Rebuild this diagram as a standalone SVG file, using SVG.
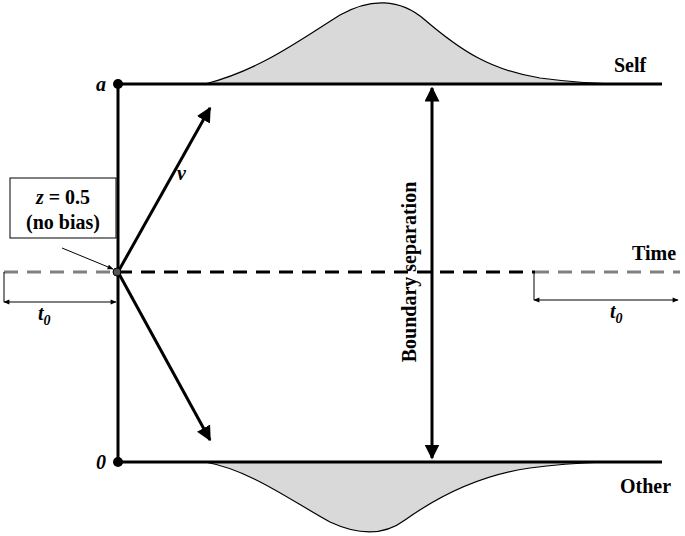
<svg xmlns="http://www.w3.org/2000/svg" width="685" height="536" viewBox="0 0 685 536">
<defs>
<marker id="ah" viewBox="0 0 10 10" refX="9" refY="5" markerWidth="5" markerHeight="5" orient="auto-start-reverse"><path d="M0,0L10,5L0,10z" fill="#000"/></marker>
<marker id="sm" viewBox="0 0 10 10" refX="9" refY="5" markerWidth="8" markerHeight="6" orient="auto-start-reverse"><path d="M0,1L10,5L0,9z" fill="#000"/></marker>
</defs>
<style>
text{font-family:"Liberation Serif",serif;font-weight:bold;fill:#000}
.b{stroke:#000;stroke-width:3;fill:none}
.t{stroke:#000;stroke-width:1;fill:none}
.dist{fill:#d9d9d9;stroke:#000;stroke-width:1.2}
</style>
<rect width="685" height="536" fill="#fff"/>
<g id="dists">
<path class="dist" d="M205,84 C260,70 300,40 340,15 C370,-2 400,-2 425,20 C460,50 490,70 540,78 C570,82 600,84 625,84 Z"/>
<path class="dist" d="M205,462 C250,470 290,500 330,522 C360,536 385,535 405,520 C440,495 480,475 530,468 C560,464 580,463 605,462 Z"/>
</g>
<g id="connectors">
<line class="b" x1="118" y1="84" x2="662" y2="84"/>
<line class="b" x1="118" y1="462" x2="662" y2="462"/>
<line class="b" x1="118" y1="84" x2="118" y2="462"/>
<line x1="118" y1="272" x2="535" y2="272" stroke="#000" stroke-width="3" stroke-dasharray="14,9"/>
<line x1="535" y1="272" x2="680" y2="272" stroke="#808080" stroke-width="3" stroke-dasharray="14,9"/>
<line x1="4" y1="272" x2="114" y2="272" stroke="#808080" stroke-width="3" stroke-dasharray="14,9"/>
<line class="b" x1="118" y1="272" x2="210" y2="108" marker-end="url(#ah)"/>
<line class="b" x1="118" y1="272" x2="210" y2="440" marker-end="url(#ah)"/>
<line class="b" x1="432" y1="88" x2="432" y2="458" marker-start="url(#ah)" marker-end="url(#ah)"/>
<line class="t" x1="62" y1="248" x2="113" y2="269" marker-end="url(#sm)"/>
<line class="t" x1="4" y1="272" x2="4" y2="302"/>
<line class="t" x1="4" y1="302" x2="116" y2="302" marker-start="url(#sm)" marker-end="url(#sm)"/>
<line class="t" x1="534" y1="272" x2="534" y2="300"/>
<line class="t" x1="534" y1="300" x2="678" y2="300" marker-start="url(#sm)" marker-end="url(#sm)"/>
</g>
<g id="dots">
<circle cx="118" cy="84" r="5" fill="#000"/>
<circle cx="118" cy="462" r="5" fill="#000"/>
<circle cx="117" cy="272" r="4" fill="#555" stroke="#000"/>
</g>
<g id="zbox">
<rect x="10" y="178" width="106" height="60" fill="#fff" stroke="#000" stroke-width="1"/>
<text x="63" y="204" font-size="20" text-anchor="middle"><tspan font-style="italic">z</tspan> = 0.5</text>
<text x="63" y="229" font-size="20" text-anchor="middle">(no bias)</text>
</g>
<g id="labels">
<text x="96" y="91" font-size="20" font-style="italic">a</text>
<text x="96" y="469" font-size="20" font-style="italic">0</text>
<text x="614" y="72" font-size="20">Self</text>
<text x="620" y="493" font-size="20">Other</text>
<text x="632" y="260" font-size="20">Time</text>
<text x="177" y="180" font-size="20" font-style="italic">v</text>
<text x="38" y="320" font-size="20" font-style="italic">t<tspan font-size="14" dy="5">0</tspan></text>
<text x="610" y="318" font-size="20" font-style="italic">t<tspan font-size="14" dy="5">0</tspan></text>
<text transform="translate(416,272) rotate(-90)" font-size="20" text-anchor="middle">Boundary separation</text>
</g>
</svg>
